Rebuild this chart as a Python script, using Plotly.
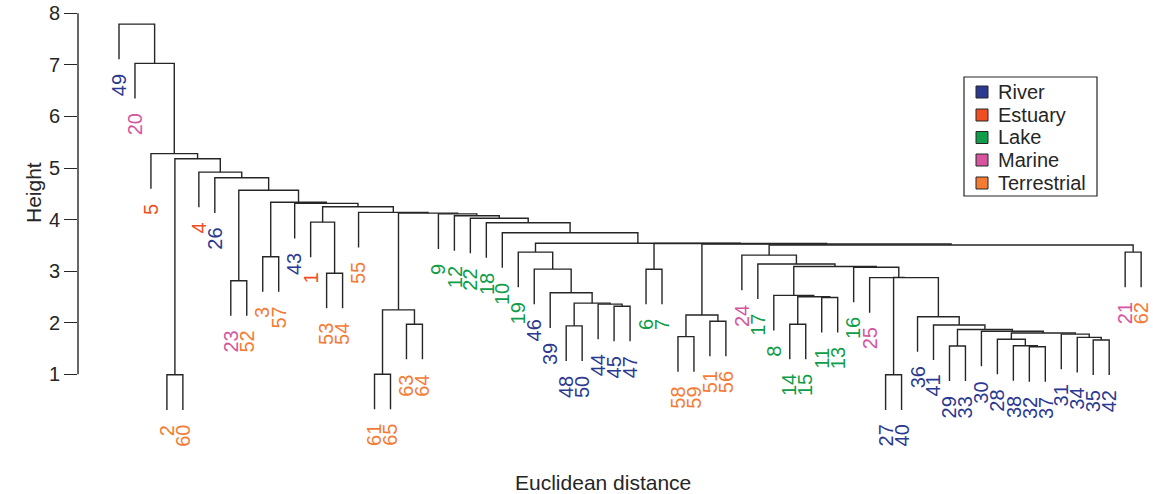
import plotly.graph_objects as go

# ---------------- data ----------------
leaf_order = [49, 20, 5, 2, 60, 4, 26, 23, 52, 3, 57, 43, 1, 53, 54, 55, 61, 65, 63, 64,
              9, 12, 22, 18, 10, 19, 46, 39, 48, 50, 44, 45, 47, 6, 7, 58, 59, 51, 56,
              24, 17, 8, 14, 15, 11, 13, 16, 25, 27, 40, 36, 41, 29, 33, 30, 28, 38, 32,
              37, 31, 34, 35, 42, 21, 62]

river = [49, 26, 43, 46, 39, 48, 50, 44, 45, 47, 27, 40, 36, 41, 29, 33, 30, 28, 38, 32,
         37, 31, 34, 35, 42]
estuary = [5, 4, 1]
lake = [9, 12, 22, 18, 10, 19, 6, 7, 17, 8, 14, 15, 11, 13, 16]
marine = [20, 23, 24, 25, 21]
terrestrial = [2, 60, 52, 3, 57, 53, 54, 55, 61, 65, 63, 64, 58, 59, 51, 56, 62]

group_names = ["River", "Estuary", "Lake", "Marine", "Terrestrial"]
group_colors = ["#2b3990", "#f04e23", "#0f9d4a", "#d5559f", "#f47b34"]

# hclust-style merge table: negative = observation, positive = earlier merge (1-based)
merge_left = [-2, -61, -27, -32, -38, -29, -28, -35, -34, -31, 7, -30, 6, -41, -36, -25,
              3, -16, -14, -11, 19, -8, 22, -17, -24, -21, 25, -58, -51, 28, 30, -6, 32,
              -45, -44, -48, 36, -39, -46, -19, 40, -10, -18, -22, -12, -9, -63, 2, 48,
              -55, -53, -1, 52, -43, -3, 55, -23, 57, -26, -4, 1, -5, -20, -49]
merge_right = [-60, -65, -40, -37, 4, -33, 5, -42, 8, 9, 10, 11, 12, 13, 14, 15, 16, 17,
               -15, -13, 20, 21, 18, 23, 24, -62, 26, -59, -56, 29, 27, -7, 31, -47, 34,
               -50, 35, 37, 38, 39, 33, 41, 42, 43, 44, 45, -64, 47, 46, 49, -54, 51, 50,
               53, -57, 54, -52, 56, 58, 59, 60, 61, 62, 63]
merge_height = [0.99, 1.00, 0.99, 1.535, 1.555, 1.55, 1.68, 1.665, 1.717, 1.78, 1.80,
                1.835, 1.87, 1.956, 2.117, 2.875, 2.88, 3.075, 1.97, 2.49, 2.505, 2.53,
                3.09, 3.14, 3.31, 3.37, 3.507, 1.73, 2.03, 2.15, 3.527, 3.036, 3.535,
                2.32, 2.36, 1.94, 2.38, 2.58, 3.04, 3.37, 3.54, 3.745, 3.94, 4.025, 4.075,
                4.11, 1.97, 2.25, 4.125, 4.14, 2.96, 3.95, 4.25, 4.315, 3.28, 4.335, 2.815,
                4.57, 4.81, 4.92, 5.18, 5.28, 7.03, 7.79]

y_ticks = [1, 2, 3, 4, 5, 6, 7, 8]

# ---------------- layout geometry ----------------
W, H = 1153, 494
ML, MR, MT, MB = 78, 5, 5, 5
x_range = [-1.567, 65.43]
y_range = [-1.224, 8.161]
ink = "#262626"
font_family = "Liberation Sans, Arial, Helvetica, sans-serif"

# ---------------- compute dendrogram ----------------
hang = 0.1 * (max(merge_height) - min(merge_height))
pos = {obs: i + 1 for i, obs in enumerate(leaf_order)}
node_x = {}
xs, ys = [], []
leaf_end = {}
for k, (a, b, h) in enumerate(zip(merge_left, merge_right, merge_height), start=1):
    pts = []
    for c in (a, b):
        if c < 0:
            cx, cy = pos[-c], h - hang
            leaf_end[-c] = (cx, cy)
        else:
            cx, cy = node_x[c], merge_height[c - 1]
        pts.append((cx, cy))
    (xl, yl), (xr, yr) = pts
    node_x[k] = (xl + xr) / 2
    xs += [xl, xl, xr, xr, None]
    ys += [yl, h, h, yr, None]

color_of = {}
for name, members, col in zip(group_names, [river, estuary, lake, marine, terrestrial], group_colors):
    for m in members:
        color_of[m] = col

fig = go.Figure()
fig.add_trace(go.Scatter(x=xs, y=ys, mode="lines", line=dict(color=ink, width=1.4),
                         hoverinfo="skip", showlegend=False))

annotations = []
for obs in leaf_order:
    lx, ly = leaf_end[obs]
    annotations.append(dict(x=lx, y=ly, xref="x", yref="y", text=str(obs), showarrow=False,
                            textangle=-90, xanchor="center", yanchor="top", yshift=-13,
                            font=dict(size=20, color=color_of[obs], family=font_family)))

# y axis line from 1 to 8 (R style)
fig.add_shape(type="line", xref="paper", yref="y", x0=0, x1=0, y0=min(y_ticks), y1=max(y_ticks),
              line=dict(color=ink, width=1.4))

def px2paper_x(px):
    return (px - ML) / (W - ML - MR)

def px2paper_y(py):
    return (H - MB - py) / (H - MT - MB)

# axis titles
annotations.append(dict(x=px2paper_x(33), y=px2paper_y(193), xref="paper", yref="paper",
                        text="Height", textangle=-90, showarrow=False, xanchor="center",
                        yanchor="middle", font=dict(size=21, color=ink, family=font_family)))
annotations.append(dict(x=px2paper_x(603), y=px2paper_y(482), xref="paper", yref="paper",
                        text="Euclidean distance", showarrow=False, xanchor="center",
                        yanchor="middle", font=dict(size=21, color=ink, family=font_family)))

# legend (drawn manually)
box_l, box_r, box_t, box_b = 964, 1097, 77, 196
fig.add_shape(type="rect", xref="paper", yref="paper", x0=px2paper_x(box_l), x1=px2paper_x(box_r),
              y0=px2paper_y(box_b), y1=px2paper_y(box_t), line=dict(color=ink, width=1.2),
              fillcolor="white")
row_y = [92, 115, 137.5, 160, 183]
for name, col, ry in zip(group_names, group_colors, row_y):
    fig.add_shape(type="rect", xref="paper", yref="paper", x0=px2paper_x(976), x1=px2paper_x(988),
                  y0=px2paper_y(ry + 6), y1=px2paper_y(ry - 6), line=dict(color=ink, width=1),
                  fillcolor=col)
    annotations.append(dict(x=px2paper_x(996), y=px2paper_y(ry), xref="paper", yref="paper",
                            text=name, showarrow=False, xanchor="left", yanchor="middle",
                            font=dict(size=20, color=ink, family=font_family)))

fig.update_layout(
    width=W, height=H, margin=dict(l=ML, r=MR, t=MT, b=MB, autoexpand=False),
    paper_bgcolor="white", plot_bgcolor="white",
    showlegend=False, annotations=annotations,
    xaxis=dict(range=x_range, visible=False, automargin=False),
    yaxis=dict(range=y_range, tickvals=y_ticks, ticktext=[str(t) for t in y_ticks],
               ticks="outside", ticklen=13, tickwidth=1.4, tickcolor=ink, showline=False,
               showgrid=False, zeroline=False, ticklabeloverflow="allow", automargin=False,
               tickfont=dict(size=20, color=ink, family=font_family)),
)

fig.write_html("out.html", config={"displayModeBar": False},
               post_script="document.body.style.margin='0';")
